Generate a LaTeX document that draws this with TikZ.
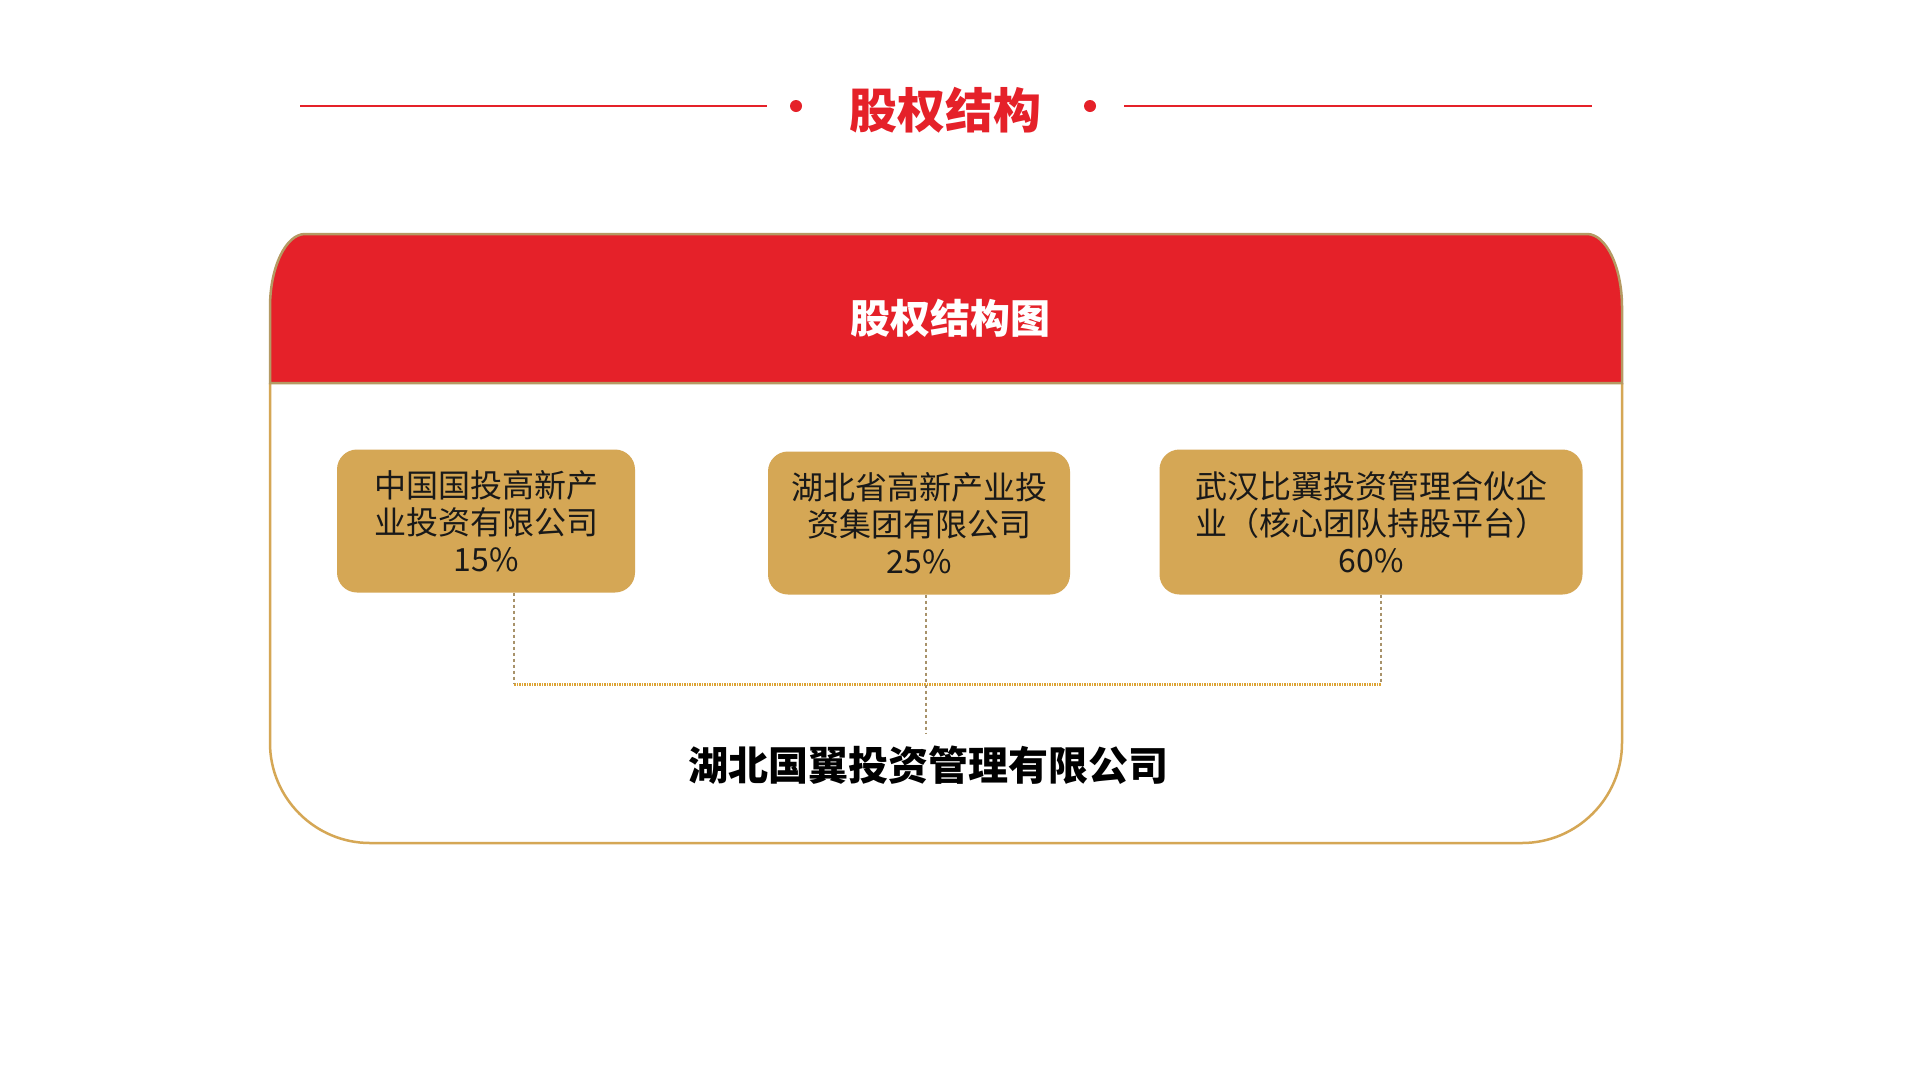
\documentclass[tikz,border=0pt]{standalone}
\usepackage{fontspec}
\setmainfont{Noto Sans CJK SC}
\definecolor{gqred}{HTML}{E52129}
\definecolor{gqgold}{HTML}{D5A755}
\definecolor{gqtan}{HTML}{B59A63}
\definecolor{gqdash}{HTML}{A8926A}
\definecolor{gqdot}{HTML}{DDA435}
\tikzset{
  holder/.style={fill=gqgold, rounded corners=20pt, align=center, inner sep=0pt,
    font=\fontsize{32}{37}\selectfont, text=black!90},
  linkv/.style={gqdash, line width=2pt, dash pattern=on 3pt off 3pt},
  linkh/.style={gqdot, line width=3pt, dash pattern=on 1.5pt off 1pt},
}
\begin{document}
\begin{tikzpicture}[x=1pt,y=-1pt]
  \fill[white] (0,0) rectangle (1920,1080);
  \useasboundingbox (0,0) rectangle (1920,1080);

  % title with side rules
  \draw[gqred, line width=2.5pt] (300,106) -- (767,106);
  \draw[gqred, line width=2.5pt] (1124,106) -- (1592,106);
  \fill[gqred] (796,106) circle (6pt);
  \fill[gqred] (1090,106) circle (6pt);
  \node[font=\fontsize{48}{48}\selectfont\bfseries, text=gqred] (title) at (945,110) {股权结构};

  % frame and red header
  \draw[gqgold, line width=2.5pt] (270,383) -- (270,743)
    .. controls (270,798) and (315,843) .. (370,843) -- (1522,843)
    .. controls (1577,843) and (1622,798) .. (1622,743) -- (1622,383);
  \filldraw[fill=gqred, draw=gqtan, line width=2.5pt] (270,383) -- (270,307)
    .. controls (270,267) and (286,234) .. (305,234) -- (1587,234)
    .. controls (1606,234) and (1622,267) .. (1622,307) -- (1622,383) -- cycle;
  \node[font=\fontsize{40}{40}\selectfont\bfseries, text=white] (head) at (950,318) {股权结构图};

  % shareholders
  \foreach \nm/\x/\y/\w/\h/\txt in {
      b1/486/521/298/143/{中国国投高新产\\业投资有限公司\\15\%},
      b2/919/523/302/143/{湖北省高新产业投\\资集团有限公司\\25\%},
      b3/1371/522/423/145/{武汉比翼投资管理合伙企\\业（核心团队持股平台）\\60\%}} {
    \node[holder, minimum width=\w pt, minimum height=\h pt] (\nm) at (\x,\y) {\txt};
  }

  \node[font=\fontsize{40}{40}\selectfont\bfseries, inner sep=0pt] (sub) at (928,765) {湖北国翼投资管理有限公司};

  % dotted links
  \coordinate (j1) at (514,684);
  \coordinate (j2) at (926,684);
  \coordinate (j3) at (1381,684);
  \coordinate (j4) at (926,734);
  \draw[linkh] (j1) -- (j3);
  \draw[linkv] (b1.south -| j1) -- (j1);
  \draw[linkv] (b3.south -| j3) -- (j3);
  \draw[linkv] (b2.south -| j2) -- (j4);
\end{tikzpicture}
\end{document}
